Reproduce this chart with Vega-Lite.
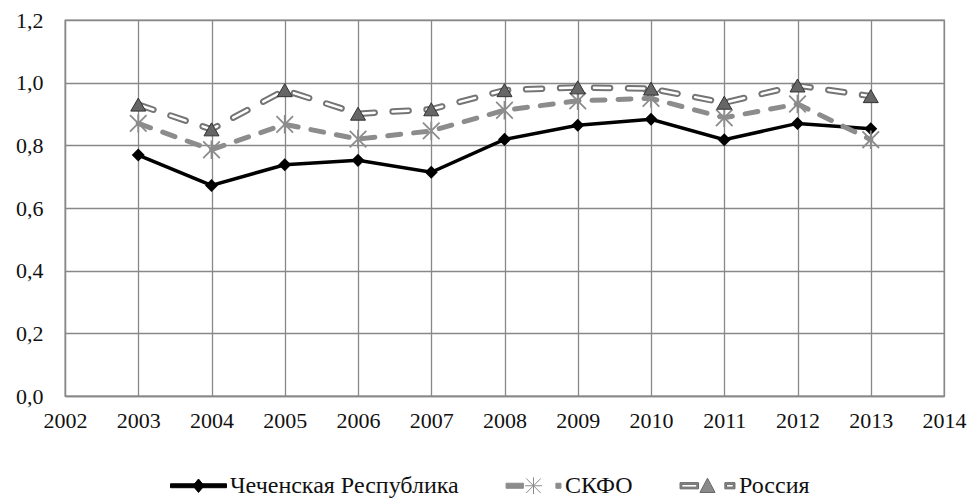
{
  "$schema": "https://vega.github.io/schema/vega-lite/v6.json",
  "width": 879,
  "height": 376,
  "autosize": {"type": "none"},
  "padding": {"left": 65, "top": 20, "right": 26, "bottom": 102},
  "background": "white",
  "config": {
    "view": {"stroke": "#888", "strokeWidth": 1.3},
    "font": "'Liberation Serif', 'Times New Roman', serif",
    "axis": {
      "labelFont": "'Liberation Serif', 'Times New Roman', serif",
      "labelFontSize": 22,
      "labelColor": "#111",
      "gridColor": "#888",
      "gridWidth": 1.3,
      "gridOpacity": 1,
      "domainColor": "#888",
      "domainWidth": 1.3,
      "ticks": false,
      "title": null
    },
    "legend": {
      "labelFont": "'Liberation Serif', 'Times New Roman', serif"
    }
  },
  "data": {
    "values": [
      {"year": 2003, "series": "Чеченская Республика", "value": 0.769},
      {"year": 2004, "series": "Чеченская Республика", "value": 0.672},
      {"year": 2005, "series": "Чеченская Республика", "value": 0.738},
      {"year": 2006, "series": "Чеченская Республика", "value": 0.752},
      {"year": 2007, "series": "Чеченская Республика", "value": 0.714},
      {"year": 2008, "series": "Чеченская Республика", "value": 0.819},
      {"year": 2009, "series": "Чеченская Республика", "value": 0.864},
      {"year": 2010, "series": "Чеченская Республика", "value": 0.883},
      {"year": 2011, "series": "Чеченская Республика", "value": 0.818},
      {"year": 2012, "series": "Чеченская Республика", "value": 0.870},
      {"year": 2013, "series": "Чеченская Республика", "value": 0.853},
      {"year": 2003, "series": "СКФО", "value": 0.870},
      {"year": 2004, "series": "СКФО", "value": 0.786},
      {"year": 2005, "series": "СКФО", "value": 0.867},
      {"year": 2006, "series": "СКФО", "value": 0.820},
      {"year": 2007, "series": "СКФО", "value": 0.846},
      {"year": 2008, "series": "СКФО", "value": 0.912},
      {"year": 2009, "series": "СКФО", "value": 0.942},
      {"year": 2010, "series": "СКФО", "value": 0.950},
      {"year": 2011, "series": "СКФО", "value": 0.888},
      {"year": 2012, "series": "СКФО", "value": 0.932},
      {"year": 2013, "series": "СКФО", "value": 0.818},
      {"year": 2003, "series": "Россия", "value": 0.930},
      {"year": 2004, "series": "Россия", "value": 0.851},
      {"year": 2005, "series": "Россия", "value": 0.976},
      {"year": 2006, "series": "Россия", "value": 0.901},
      {"year": 2007, "series": "Россия", "value": 0.915},
      {"year": 2008, "series": "Россия", "value": 0.976},
      {"year": 2009, "series": "Россия", "value": 0.985},
      {"year": 2010, "series": "Россия", "value": 0.981},
      {"year": 2011, "series": "Россия", "value": 0.936},
      {"year": 2012, "series": "Россия", "value": 0.991},
      {"year": 2013, "series": "Россия", "value": 0.957}
    ]
  },
  "encoding": {
    "x": {
      "field": "year",
      "type": "quantitative",
      "scale": {"domain": [2002, 2014], "nice": false, "zero": false},
      "axis": {
        "values": [2002, 2003, 2004, 2005, 2006, 2007, 2008, 2009, 2010, 2011, 2012, 2013, 2014],
        "format": "d",
        "labelFlush": false,
        "labelOverlap": false,
        "labelPadding": 14,
        "grid": true
      }
    },
    "y": {
      "field": "value",
      "type": "quantitative",
      "scale": {"domain": [0, 1.2], "nice": false},
      "axis": {
        "values": [0, 0.2, 0.4, 0.6, 0.8, 1.0, 1.2],
        "labelExpr": "replace(format(datum.value, '.1f'), '.', ',')",
        "labelPadding": 22,
        "labelFlush": false,
        "labelOverlap": false,
        "grid": true
      }
    }
  },
  "layer": [
    {
      "transform": [{"filter": "datum.series === 'Чеченская Республика'"}],
      "mark": {"type": "line", "color": "#000", "strokeWidth": 3.5}
    },
    {
      "transform": [{"filter": "datum.series === 'Чеченская Республика'"}],
      "mark": {"type": "point", "shape": "diamond", "filled": true, "color": "#000", "size": 170, "opacity": 1}
    },
    {
      "transform": [{"filter": "datum.series === 'СКФО'"}],
      "mark": {"type": "line", "color": "#8c8c8c", "strokeWidth": 5, "strokeDash": [13, 13], "strokeCap": "round"}
    },
    {
      "transform": [{"filter": "datum.series === 'СКФО'"}],
      "mark": {"type": "point", "shape": "M-0.9,-0.9L0.9,0.9M0.9,-0.9L-0.9,0.9M0,-1L0,1", "filled": false, "stroke": "#8c8c8c", "strokeWidth": 1.8, "size": 340, "opacity": 1}
    },
    {
      "transform": [{"filter": "datum.series === 'Россия'"}],
      "mark": {"type": "line", "color": "#747474", "strokeWidth": 6.5, "strokeDash": [16, 18], "strokeCap": "round"}
    },
    {
      "transform": [{"filter": "datum.series === 'Россия'"}],
      "mark": {"type": "line", "color": "#ffffff", "strokeWidth": 2.5, "strokeDash": [16, 18], "strokeCap": "round"}
    },
    {
      "transform": [{"filter": "datum.series === 'Россия'"}],
      "mark": {"type": "point", "shape": "triangle-up", "filled": true, "fill": "#666", "stroke": "#333", "strokeWidth": 1, "size": 225, "opacity": 1}
    },
    {
      "mark": {"type": "point", "filled": true, "opacity": 0},
      "encoding": {
        "shape": {
          "field": "series",
          "type": "nominal",
          "scale": {
            "domain": ["Чеченская Республика", "СКФО", "Россия"],
            "range": [
              "M-1,-0.07L1,-0.07L1,0.07L-1,0.07Z M0,-0.24L0.2,0L0,0.24L-0.2,0Z",
              "M-0.98,-0.09L-0.36,-0.09L-0.36,0.09L-0.98,0.09Z M-0.26,-0.26L0.26,0.26M0.26,-0.26L-0.26,0.26M0,-0.3L0,0.3M-0.3,0L0.3,0 M0.8,-0.09L0.98,-0.09L0.98,0.09L0.8,0.09Z",
              "M-0.98,-0.11L-0.32,-0.11L-0.32,0.11L-0.98,0.11Z M-0.92,-0.05L-0.92,0.05L-0.38,0.05L-0.38,-0.05Z M-0.27,0.24L0,-0.27L0.27,0.24Z M0.62,-0.11L0.98,-0.11L0.98,0.11L0.62,0.11Z M0.68,-0.05L0.68,0.05L0.92,0.05L0.92,-0.05Z"
            ]
          },
          "legend": {
            "title": null,
            "orient": "none",
            "direction": "horizontal",
            "legendX": 105,
            "legendY": 437,
            "symbolSize": 3136,
            "symbolOpacity": 1,
            "symbolStrokeWidth": 1,
            "labelFontSize": 24,
            "labelColor": "#111",
            "labelOffset": 3,
            "columnPadding": 45,
            "padding": 0,
            "labelLimit": 400
          }
        },
        "fill": {
          "field": "series",
          "type": "nominal",
          "scale": {"domain": ["Чеченская Республика", "СКФО", "Россия"], "range": ["#000000", "#8c8c8c", "#8a8a8a"]},
          "legend": {
            "title": null,
            "orient": "none",
            "direction": "horizontal",
            "legendX": 105,
            "legendY": 437,
            "symbolSize": 3136,
            "symbolOpacity": 1,
            "symbolStrokeWidth": 1,
            "labelFontSize": 24,
            "labelColor": "#111",
            "labelOffset": 3,
            "columnPadding": 45,
            "padding": 0,
            "labelLimit": 400
          }
        },
        "stroke": {
          "field": "series",
          "type": "nominal",
          "scale": {"domain": ["Чеченская Республика", "СКФО", "Россия"], "range": ["#000000", "#8c8c8c", "#666666"]},
          "legend": {
            "title": null,
            "orient": "none",
            "direction": "horizontal",
            "legendX": 105,
            "legendY": 437,
            "symbolSize": 3136,
            "symbolOpacity": 1,
            "symbolStrokeWidth": 1,
            "labelFontSize": 24,
            "labelColor": "#111",
            "labelOffset": 3,
            "columnPadding": 45,
            "padding": 0,
            "labelLimit": 400
          }
        }
      }
    }
  ]
}
